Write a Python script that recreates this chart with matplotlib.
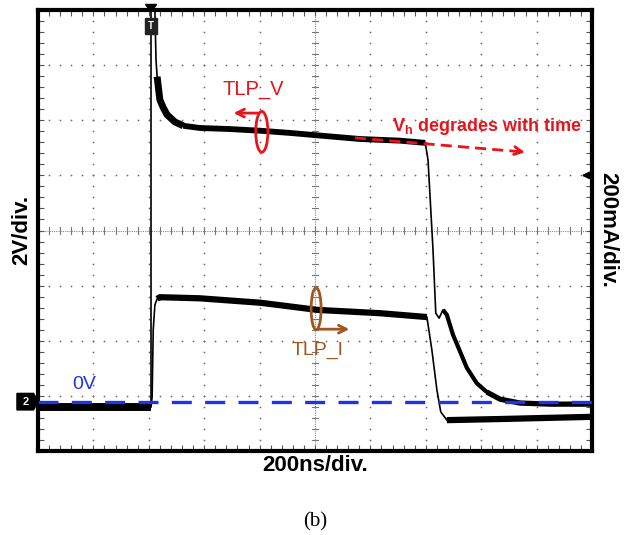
"""
TLP oscilloscope capture: voltage and current waveforms with annotations.
"""

import numpy as np
import matplotlib
matplotlib.use("Agg")
import matplotlib.pyplot as plt
from matplotlib.patches import Ellipse, Polygon, Rectangle

plt.rcParams["font.family"] = ["Liberation Sans", "DejaVu Sans"]
plt.rcParams["mathtext.fontset"] = "custom"
plt.rcParams["mathtext.bf"] = "Liberation Sans:bold"

# ── Data (screen divisions: 10 across, 8 high) ────────────────────────────────

v_x = [0.00, 2.04, 2.04, 2.11, 2.13, 2.15, 2.20, 2.26, 2.33, 2.47, 2.62, 2.92,
       3.47, 4.01, 4.55, 5.00, 5.81, 6.53, 6.99, 7.04, 7.13, 7.18, 7.24, 7.31,
       7.38, 7.49, 7.62, 7.74, 7.92, 8.10, 8.34, 8.70, 9.24, 10.0]
v_y = [0.80, 0.80, 8.00, 8.00, 7.10, 6.79, 6.37, 6.23, 6.10, 5.97, 5.90, 5.86,
       5.84, 5.81, 5.77, 5.73, 5.66, 5.63, 5.59, 5.28, 3.65, 2.50, 2.41, 2.56,
       2.47, 2.11, 1.80, 1.51, 1.23, 1.07, 0.94, 0.87, 0.85, 0.85]

i_x = [0.00, 2.04, 2.06, 2.08, 2.11, 2.15, 2.20, 2.92, 4.01, 5.04, 6.17, 7.02,
       7.11, 7.20, 7.27, 7.38, 8.34, 10.0]
i_y = [0.80, 0.80, 0.98, 2.20, 2.65, 2.76, 2.79, 2.77, 2.69, 2.56, 2.50, 2.43,
       1.83, 1.11, 0.71, 0.56, 0.58, 0.62]

zero_level = 0.895
trigger_x = 2.04
ch_marker_y = 5.0

# noisy stretches of each trace: (start index, end index, band width)
v_noisy = [(0, 2, 5.5), (5, 11, 5.0), (10, 19, 4.2), (23, 30, 3.0),
           (29, 34, 3.8)]
i_noisy = [(0, 2, 5.5), (5, 12, 4.5), (15, 18, 4.5)]

# ── Figure ────────────────────────────────────────────────────────────────────

fig = plt.figure(figsize=(6.24, 5.35), dpi=100)
ax = fig.add_axes([38 / 624, 84 / 535, 554 / 624, 441 / 535])
ax.set_xlim(0, 10)
ax.set_ylim(0, 8)

# graticule
dots = np.arange(0, 8.01, 0.2)
for xv in [1, 2, 3, 4, 6, 7, 8, 9]:
    ax.plot([xv] * len(dots), dots, ls="none", marker="o", ms=1.3,
            mec="none", color="#707070", zorder=1)
dots_h = np.arange(0, 10.01, 0.2)
for yv in [1, 2, 3, 5, 6, 7]:
    ax.plot(dots_h, [yv] * len(dots_h), ls="none", marker="o", ms=1.3,
            mec="none", color="#707070", zorder=1)
ax.axvline(5, color="#888888", lw=0.8, ls=(0, (1, 1)), zorder=1)
ax.axhline(4, color="#888888", lw=0.8, ls=(0, (1, 1)), zorder=1)
for yv in dots:
    ax.plot([4.94, 5.06], [yv, yv], color="#777777", lw=0.8, zorder=1)
for xv in dots_h:
    ax.plot([xv, xv], [3.94, 4.06], color="#777777", lw=0.8, zorder=1)

ax.xaxis.set_major_locator(plt.MultipleLocator(1))
ax.xaxis.set_minor_locator(plt.MultipleLocator(0.2))
ax.yaxis.set_major_locator(plt.MultipleLocator(1))
ax.yaxis.set_minor_locator(plt.MultipleLocator(0.2))
ax.tick_params(which="both", direction="in", top=True, right=True,
               length=4, width=0.8, color="#555555",
               labelbottom=False, labelleft=False)
for sp in ax.spines.values():
    sp.set_linewidth(3)
    sp.set_color("black")

# traces
for xs, ys, noisy in [(v_x, v_y, v_noisy), (i_x, i_y, i_noisy)]:
    ax.plot(xs, ys, color="black", lw=1.2, zorder=3)
    for a, b, w in noisy:
        ax.plot(xs[a:b], ys[a:b], color="black", lw=w,
                solid_joinstyle="round", solid_capstyle="butt", zorder=3)

# 0 V reference
ax.axhline(zero_level, color="#1f34e6", lw=2.4, ls=(0, (6.0, 4.0)), zorder=4)

# scope markers
ax.add_patch(Polygon([[trigger_x - 0.1, 8.1], [trigger_x + 0.1, 8.1],
                      [trigger_x, 7.97]], closed=True, color="black",
                     clip_on=False, zorder=6))
ax.add_patch(Rectangle((trigger_x - 0.11, 7.57), 0.22, 0.28, color="#222222",
                       clip_on=False, zorder=6))
ax.text(trigger_x, 7.71, "T", color="white", fontsize=7, fontweight="bold",
        ha="center", va="center", zorder=7)
ax.add_patch(Polygon([[-0.38, zero_level + 0.15], [-0.08, zero_level + 0.15],
                      [0.0, zero_level], [-0.08, zero_level - 0.15],
                      [-0.38, zero_level - 0.15]], closed=True, color="black",
                     clip_on=False, zorder=6))
ax.text(-0.22, zero_level, "2", color="white", fontsize=8, fontweight="bold",
        ha="center", va="center", clip_on=False, zorder=7)
ax.annotate("", xy=(9.76, ch_marker_y), xytext=(9.97, ch_marker_y),
            arrowprops=dict(arrowstyle="-|>", color="black", lw=1.5,
                            mutation_scale=10), zorder=6)

# annotations
red = "#e8141b"
brown = "#a0561e"
ax.text(3.88, 6.55, "TLP_V", color=red, fontsize=14.5, ha="center",
        va="center", zorder=8)
ax.add_patch(Ellipse((4.04, 5.79), 0.22, 0.74, fill=False, ec=red, lw=2,
                     zorder=8))
ax.annotate("", xy=(3.48, 6.13), xytext=(4.04, 6.13),
            arrowprops=dict(arrowstyle="->", color=red, lw=2,
                            mutation_scale=14), zorder=8)

ax.text(6.39, 5.81, r"V$_{\mathbf{h}}$ degrades with time", color=red,
        fontsize=13, fontweight="bold", ha="left", va="baseline", zorder=8)
ax.plot([5.72, 8.7], [5.68, 5.43], color=red, lw=2, ls=(0, (4, 2.2)),
        zorder=8)
ax.annotate("", xy=(8.84, 5.41), xytext=(8.6, 5.45),
            arrowprops=dict(arrowstyle="->", color=red, lw=2,
                            mutation_scale=14), zorder=8)

ax.text(5.05, 1.83, "TLP_I", color=brown, fontsize=14, ha="center",
        va="center", zorder=8)
ax.add_patch(Ellipse((5.02, 2.58), 0.18, 0.76, fill=False, ec=brown, lw=2,
                     zorder=8))
ax.annotate("", xy=(5.67, 2.21), xytext=(5.02, 2.21),
            arrowprops=dict(arrowstyle="->", color=brown, lw=2,
                            mutation_scale=14), zorder=8)

ax.text(0.83, 1.20, "0V", color="#1f34e6", fontsize=14, ha="center",
        va="center", zorder=8)

# axis captions
fig.text(22 / 624, 0.570, "2V/div.", fontsize=16, fontweight="bold",
         rotation=90, ha="center", va="center")
fig.text(608 / 624, 0.570, "200mA/div.", fontsize=16, fontweight="bold",
         rotation=-90, ha="center", va="center")
fig.text(0.505, 0.129, "200ns/div.", fontsize=16, fontweight="bold",
         ha="center", va="center")
fig.text(0.505, 0.024, "(b)", fontsize=15, family="Liberation Serif",
         ha="center", va="center")

fig.savefig("out.png", dpi=100)
plt.close(fig)
